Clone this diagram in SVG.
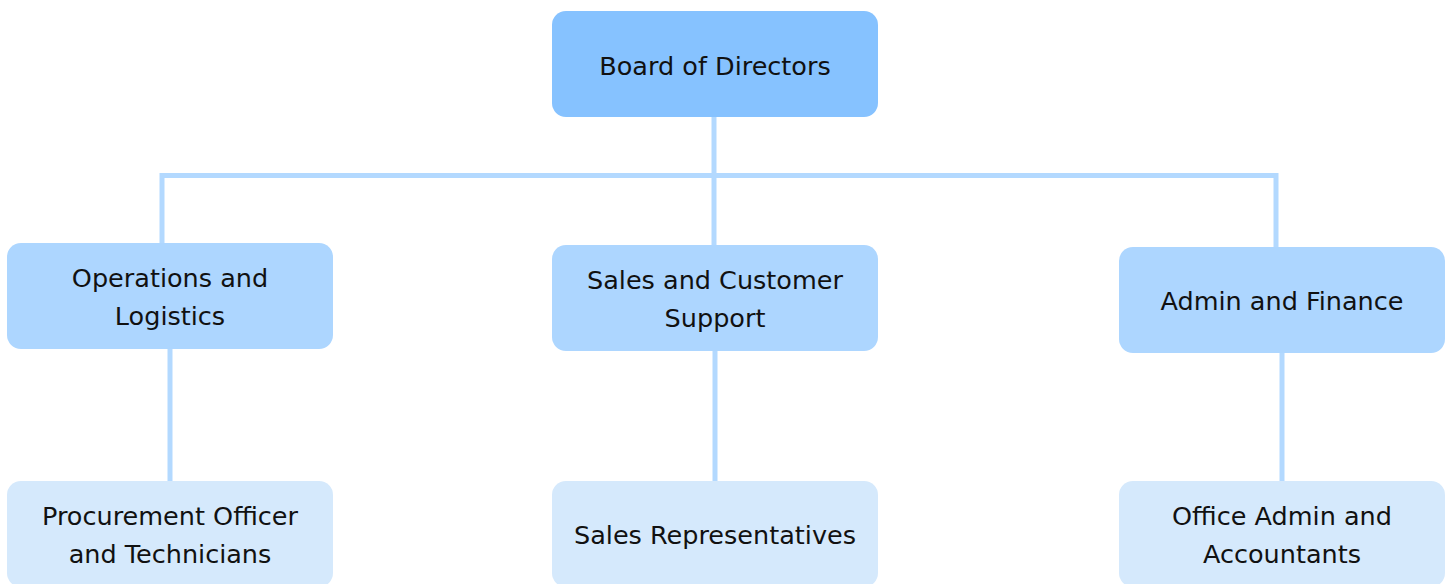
<svg xmlns="http://www.w3.org/2000/svg" width="1452" height="584" viewBox="0 0 1452 584">
<style>
.l1{fill:#86C2FF}
.l2{fill:#ADD6FF}
.l3{fill:#D5E9FC}
text{font-family:"DejaVu Sans","Liberation Sans",sans-serif;font-size:25.5px;fill:#111;text-anchor:middle}
.c{stroke:#B3D9FF;stroke-width:5;fill:none}
</style>
<rect width="1452" height="584" fill="#fff"/>
<g id="connectors">
<path class="c" d="M162 243V175.5H1276V247"/>
<path class="c" d="M714 117V245"/>
<path class="c" d="M170 349V481"/>
<path class="c" d="M715 351V481"/>
<path class="c" d="M1282 353V481"/>
</g>
<g id="board"><rect class="l1" x="552" y="11" width="326" height="106" rx="14"/><text x="715" y="75">Board of Directors</text></g>
<g id="ops"><rect class="l2" x="7" y="243" width="326" height="106" rx="14"/><text x="170" y="287">Operations and</text><text x="170" y="325">Logistics</text></g>
<g id="sales"><rect class="l2" x="552" y="245" width="326" height="106" rx="14"/><text x="715" y="289">Sales and Customer</text><text x="715" y="327">Support</text></g>
<g id="admin"><rect class="l2" x="1119" y="247" width="326" height="106" rx="14"/><text x="1282" y="310">Admin and Finance</text></g>
<g id="proc"><rect class="l3" x="7" y="481" width="326" height="106" rx="14"/><text x="170" y="525">Procurement Officer</text><text x="170" y="563">and Technicians</text></g>
<g id="salesrep"><rect class="l3" x="552" y="481" width="326" height="106" rx="14"/><text x="715" y="544">Sales Representatives</text></g>
<g id="office"><rect class="l3" x="1119" y="481" width="326" height="106" rx="14"/><text x="1282" y="525">Office Admin and</text><text x="1282" y="563">Accountants</text></g>
</svg>
